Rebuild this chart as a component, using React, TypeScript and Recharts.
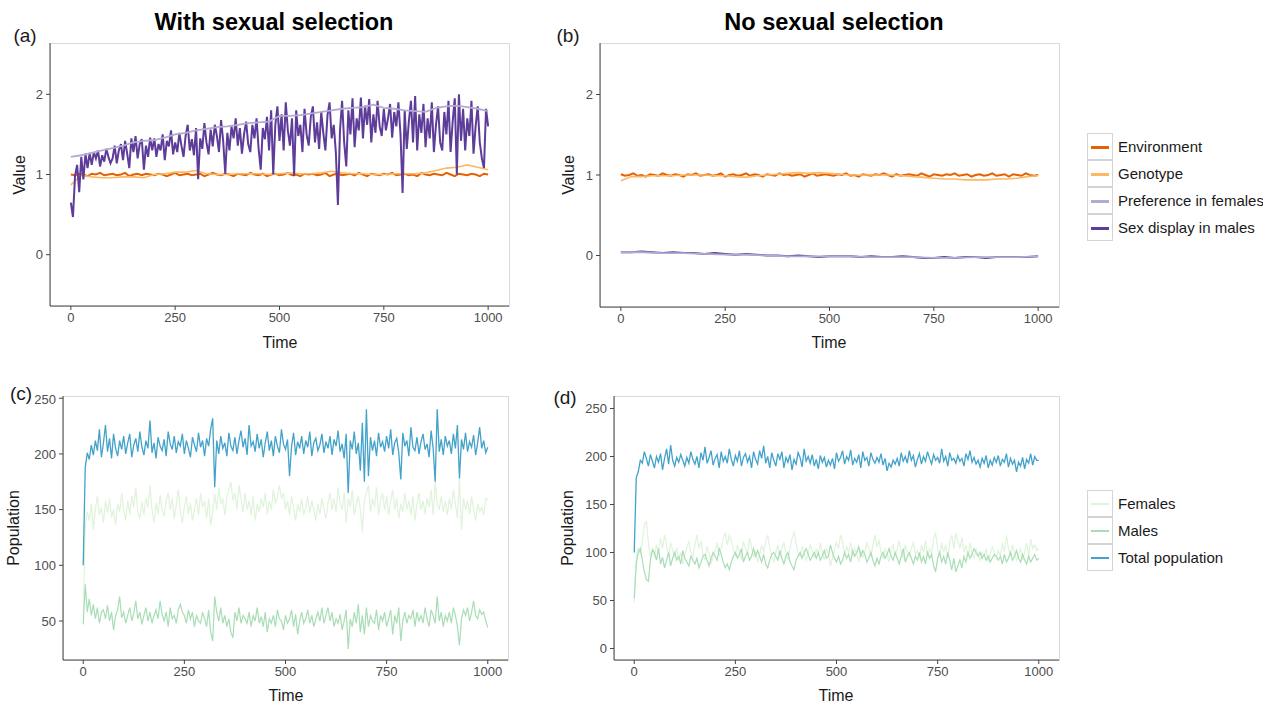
import { LineChart, Line, XAxis, YAxis } from "recharts";

// time steps between stored samples
const FAST = 5;
const MID = 10;
const SLOW = 25;
const SLOWER = 50;

const TIME_TICKS = [0, 250, 500, 750, 1000];
const VALUE_TICKS = [0, 1, 2];
const POP_TICKS_C = [50, 100, 150, 200, 250];
const POP_TICKS_D = [0, 50, 100, 150, 200, 250];

// (a) with sexual selection — every 5 steps
const SEX_DISPLAY_A = [
  0.65, 0.47, 0.98, 1.12, 0.78, 1.22, 0.94, 1.26, 1.08, 1.27,
  1.12, 1.28, 1.20, 1.30, 1.10, 1.24, 1.16, 1.32, 1.22, 1.14,
  1.20, 1.36, 1.14, 1.30, 1.38, 1.18, 1.42, 1.26, 1.08, 1.45,
  1.28, 1.48, 1.20, 1.38, 1.44, 1.06, 1.36, 1.22, 1.46, 1.30,
  1.45, 1.22, 1.38, 1.30, 1.50, 1.18, 1.42, 1.35, 1.55, 1.25,
  1.40, 1.28, 1.52, 1.36, 1.22, 1.48, 1.62, 1.30, 1.44, 1.24,
  1.58, 0.94, 1.45, 1.32, 1.64, 1.40, 1.25, 1.56, 1.35, 1.62,
  1.48, 1.28, 1.68, 1.42, 1.01, 1.52, 1.30, 1.60, 1.45, 1.70,
  1.36, 1.58, 1.26, 1.50, 1.66, 1.38, 1.28, 1.62, 1.45, 1.70,
  1.32, 1.06, 1.58, 1.44, 1.72, 1.30, 1.80, 1.00, 1.62, 1.85,
  1.42, 1.75, 1.30, 1.90, 1.55, 1.36, 1.70, 0.98, 1.80, 1.48,
  1.62, 1.28, 1.82, 1.50, 1.36, 1.72, 1.85, 1.40, 1.65, 1.32,
  1.78, 1.52, 1.30, 1.74, 1.90, 1.45, 1.62, 1.28, 0.62, 1.55,
  1.92, 1.40, 1.10, 1.80, 1.50, 1.95, 1.34, 1.70, 1.55, 1.96,
  1.45, 1.86, 1.62, 1.94, 1.40, 1.75, 1.52, 1.92, 1.60, 1.48,
  1.82, 1.55, 1.70, 1.88, 1.46, 1.78, 1.60, 1.90, 1.50, 0.77,
  1.80, 1.32, 1.66, 1.92, 1.40, 1.98, 1.30, 1.75, 1.52, 1.88,
  1.34, 1.70, 1.45, 1.90, 1.28, 1.62, 1.85, 1.40, 1.30, 1.78,
  1.50, 1.92, 1.28, 1.66, 1.95, 1.00, 2.00, 1.42, 1.82, 1.30,
  1.70, 1.48, 1.92, 1.26, 1.60, 1.85, 1.40, 1.20, 1.08, 1.82,
  1.60,
];
// every 25 steps
const PREFERENCE_A = [
  1.22, 1.24, 1.27, 1.30, 1.33, 1.36, 1.40, 1.42, 1.43, 1.46,
  1.50, 1.52, 1.55, 1.57, 1.59, 1.60, 1.62, 1.64, 1.65, 1.66,
  1.73, 1.73, 1.74, 1.76, 1.78, 1.80, 1.82, 1.83, 1.84, 1.87,
  1.83, 1.82, 1.80, 1.79, 1.78, 1.83, 1.85, 1.86, 1.84, 1.82,
  1.79,
];
const GENOTYPE_A = [
  0.87, 0.99, 0.97, 0.96, 0.96, 0.97, 0.97, 0.96, 1.00, 1.01,
  1.03, 1.03, 1.05, 1.01, 1.00, 1.00, 1.01, 1.01, 1.01, 1.00,
  1.01, 1.02, 1.01, 1.01, 1.02, 1.04, 1.02, 1.01, 1.01, 1.00,
  1.00, 1.01, 1.01, 1.01, 1.02, 1.05, 1.08, 1.09, 1.12, 1.09,
  1.06,
];
// every 10 steps
const ENVIRONMENT_A = [
  1.00, 0.99, 1.01, 1.00, 0.98, 1.01, 1.00, 1.02, 0.99, 1.00,
  1.01, 0.99, 1.00, 1.02, 0.98, 1.00, 1.01, 0.99, 1.01, 1.00,
  0.99, 1.01, 1.00, 0.98, 1.00, 1.02, 0.99, 1.00, 1.01, 0.99,
  1.00, 1.01, 0.98, 1.00, 1.02, 1.00, 0.99, 1.01, 1.00, 0.98,
  1.01, 1.00, 0.99, 1.02, 1.00, 0.99, 1.01, 0.98, 1.00, 1.01,
  0.99, 1.00, 1.02, 0.99, 1.00, 0.98, 1.01, 1.00, 1.01, 0.99,
  1.00, 1.02, 0.98, 1.00, 1.01, 0.99, 1.00, 1.01, 0.99, 1.02,
  1.00, 0.98, 1.01, 1.00, 0.99, 1.01, 1.00, 1.02, 0.99, 1.00,
  1.01, 0.99, 1.00, 0.98, 1.02, 1.00, 0.99, 1.01, 1.00, 0.99,
  1.02, 1.00, 0.98, 1.01, 1.00, 0.99, 1.01, 1.00, 0.98, 1.01,
  1.00,
];

// (b) no sexual selection
const ENVIRONMENT_B = [
  1.01, 0.99, 1.00, 1.02, 0.99, 1.00, 0.98, 1.01, 1.00, 0.99,
  1.02, 1.00, 0.99, 1.01, 1.00, 0.98, 1.01, 1.00, 1.02, 0.99,
  1.00, 1.01, 0.99, 1.00, 1.02, 0.98, 1.00, 1.01, 0.99, 1.00,
  1.02, 0.99, 1.01, 1.00, 0.98, 1.01, 1.00, 0.99, 1.02, 1.00,
  1.01, 0.99, 1.00, 1.01, 0.98, 1.00, 1.02, 0.99, 1.00, 1.01,
  1.00, 0.99, 1.01, 1.00, 1.02, 0.99, 1.00, 0.98, 1.01, 1.00,
  0.99, 1.01, 1.00, 1.02, 1.00, 0.98, 1.01, 0.99, 1.00, 1.01,
  1.00, 0.99, 1.02, 1.00, 0.98, 1.01, 1.00, 0.99, 1.01, 1.00,
  1.02, 0.99, 1.00, 1.01, 0.98, 1.00, 1.01, 0.99, 1.00, 1.02,
  0.99, 1.00, 1.01, 0.98, 1.01, 1.00, 0.99, 1.02, 1.00, 0.99,
  1.00,
];
const GENOTYPE_B = [
  0.93, 0.98, 0.98, 0.99, 0.99, 0.99, 1.00, 1.00, 1.00, 0.99,
  0.99, 0.98, 0.97, 0.99, 1.00, 1.01, 1.02, 1.03, 1.02, 1.03,
  1.02, 1.01, 1.00, 1.00, 1.00, 1.00, 1.00, 0.99, 0.98, 0.97,
  0.96, 0.95, 0.95, 0.94, 0.94, 0.94, 0.95, 0.95, 0.96, 0.98,
  0.99,
];
const SEX_DISPLAY_B = [
  0.04, 0.04, 0.05, 0.04, 0.03, 0.04, 0.03, 0.03, 0.02, 0.03,
  0.02, 0.01, 0.02, 0.01, 0.00, 0.00, -0.01, 0.00, -0.01, -0.02,
  -0.01, -0.01, -0.01, -0.02, -0.01, -0.02, -0.02, -0.01, -0.02, -0.03,
  -0.03, -0.02, -0.03, -0.02, -0.02, -0.03, -0.02, -0.02, -0.02, -0.02,
  -0.01,
];
// every 50 steps
const PREFERENCE_B = [
  0.04, 0.04, 0.03, 0.03, 0.02, 0.01, 0.01, 0.00, -0.01, -0.01,
  -0.01, -0.01, -0.02, -0.02, -0.02, -0.03, -0.03, -0.02, -0.02, -0.02,
  -0.01,
];

// (c) populations with sexual selection — every 5 steps
const TOTAL_C = [
  100, 188, 201, 195, 208, 199, 212, 203, 222, 197,
  210, 226, 202, 214, 196, 218, 205, 198, 212, 204,
  216, 200, 210, 218, 197, 208, 214, 202, 220, 206,
  199, 212, 205, 230, 201, 210, 196, 215, 207, 203,
  213, 198, 220, 209, 204, 216, 201, 211, 207, 218,
  200, 212, 205, 197, 215, 208, 202, 219, 206, 212,
  198, 214, 207, 222, 232, 170, 212, 200, 216, 205,
  210, 198, 219, 207, 203, 215, 200, 212, 221, 206,
  214, 199, 226, 207, 211, 202, 218, 205, 213, 197,
  210, 220, 203, 212, 198, 216, 207, 201, 222, 209,
  204, 213, 180, 207, 219, 199, 211, 205, 216, 200,
  212, 206, 220, 198, 210, 214, 203, 208, 218, 201,
  211, 205, 216, 199, 213, 207, 221, 202, 209, 196,
  218, 165, 212, 204, 220, 200, 210, 185, 228, 175,
  240, 180, 215, 203, 212, 198, 219, 206, 211, 202,
  216, 205, 222, 199, 210, 214, 201, 177, 219, 207,
  212, 198, 224, 206, 203, 215, 200, 211, 218, 204,
  209, 197, 221, 205, 175, 240, 202, 213, 199, 216,
  207, 212, 200, 218, 205, 226, 178, 213, 204, 219,
  202, 211, 206, 217, 199, 210, 224, 205, 212, 201,
  206,
];
const FEMALES_C = [
  53, 135, 148, 140, 155, 132, 150, 162, 145, 152,
  138, 158, 147, 160, 143, 150, 136, 155, 148, 165,
  150, 140, 158, 146, 162, 152, 170, 148, 142, 157,
  145, 160, 152, 172, 150, 138, 156, 146, 163, 150,
  144, 158, 165, 150, 160, 142, 154, 168, 148, 138,
  152, 162, 146, 156, 140, 150, 160, 145, 165, 152,
  158, 142, 160, 136, 148, 164, 150, 170, 155, 160,
  145, 162, 168, 175, 158, 165, 150, 172, 160, 148,
  165, 150, 158, 145, 162, 140, 155, 148, 160, 152,
  165, 146, 158, 150, 168, 155, 162, 172, 160, 165,
  150, 158, 145, 162, 152, 140, 155, 148, 160, 145,
  152, 162, 147, 158, 150, 140, 155, 146, 160, 150,
  142, 156, 165, 150, 160, 148, 170, 155, 150, 165,
  138, 160, 152, 168, 145, 155, 162, 150, 130, 158,
  165, 172, 148, 160, 152, 170, 145, 158, 165, 150,
  162, 145, 158, 168, 150, 160, 142, 155, 148, 165,
  150, 158, 145, 162, 140, 155, 165, 150, 158, 146,
  160, 152, 168, 145, 175, 155, 150, 162, 148, 158,
  145, 160, 150, 168, 155, 142, 178, 132, 160, 150,
  158, 146, 162, 150, 140, 155, 148, 152, 145, 160,
  158,
];
const MALES_C = [
  47, 83, 58, 70, 55, 65, 52, 62, 48, 58,
  60, 52, 64, 50, 58, 42, 55, 60, 72, 53,
  58, 48, 55, 62, 50, 57, 68, 52, 58, 47,
  55, 62, 50, 58, 48, 55, 60, 52, 68, 56,
  50, 58, 45, 62, 52, 55, 48, 60, 65, 58,
  55, 48, 60, 52, 58, 45, 55, 50, 48, 58,
  52, 45, 60, 40, 32, 72, 58, 50, 62, 48,
  55, 45, 52, 40, 35, 58, 50, 62, 48, 55,
  52, 48, 58, 45, 55, 50, 62, 48, 54, 45,
  58, 40, 52, 48, 55, 45, 60, 52, 50, 42,
  55, 48, 52, 60, 45, 56, 38, 50, 58, 48,
  52, 60, 48, 55, 45, 52, 58, 50, 62, 48,
  55, 62, 50, 58, 45, 52, 48, 56, 42, 50,
  60, 25, 52, 45, 58, 48, 65, 40, 55, 38,
  62, 45, 55, 50, 48, 60, 42, 55, 50, 58,
  45, 52, 60, 38, 55, 48, 62, 32, 50, 58,
  48, 55, 52, 60, 45, 58, 50, 55, 48, 62,
  52, 45, 60, 55, 48, 72, 50, 58, 45, 55,
  50, 58, 48, 62, 55, 45, 28, 52, 60, 55,
  62, 50, 58, 68, 55, 52, 60, 56, 58, 50,
  44,
];

// (d) populations without sexual selection — every 5 steps
const TOTAL_D = [
  100, 178, 184, 196, 193, 205, 198, 190, 202, 195,
  188, 200, 194, 203, 186, 198, 208, 192, 212, 196,
  190, 199, 194, 202, 196, 190, 199, 193, 205, 197,
  192, 200, 188, 204, 196, 210, 193, 199, 206, 191,
  198, 202, 188, 205, 195, 200, 193, 208, 197, 190,
  201, 195, 206, 190, 199, 203, 194, 200, 188, 205,
  197, 192, 206, 198, 211, 193, 200, 188, 204, 196,
  190, 203, 197, 205, 188, 199, 194, 202, 186, 197,
  192, 204, 199, 189, 208, 195, 200, 193, 202, 190,
  197, 187, 201, 194, 199, 189, 196, 191, 198, 187,
  204, 195, 199, 206, 192, 200, 196, 207, 191, 198,
  194, 202, 188, 205, 196, 199, 190, 204, 197, 193,
  199, 194, 203, 191, 198, 185, 193, 189, 196, 192,
  198, 190, 204, 195, 200, 193, 206, 196, 201, 189,
  197, 203, 192, 200, 195, 205, 198, 192, 202, 196,
  199, 193, 208, 195, 200, 190, 204, 196, 198, 193,
  201, 195, 198, 190, 203, 197, 206, 194, 199, 192,
  196, 189, 198, 193, 201, 188, 196, 191, 199, 194,
  201, 190, 197, 194, 203, 189, 198, 192, 196, 184,
  194, 190, 199, 187, 197, 193, 203, 191, 200, 196,
  196,
];
const FEMALES_D = [
  48, 95, 105, 98, 112, 128, 133, 110, 95, 102,
  96, 108, 100, 115, 104, 118, 108, 96, 110, 102,
  95, 105, 92, 100, 88, 98, 105, 112, 100, 95,
  108, 118, 104, 112, 98, 92, 106, 100, 88, 96,
  102, 110, 96, 104, 115, 120, 108, 118, 112, 104,
  96, 108, 100, 92, 112, 104, 98, 115, 106, 95,
  102, 90, 98, 108, 100, 112, 118, 105, 96, 90,
  100, 108, 95, 104, 110, 100, 92, 104, 115, 121,
  110, 100, 96, 106, 100, 92, 98, 108, 102, 95,
  104, 96, 110, 100, 92, 104, 98, 86, 94, 102,
  110, 104, 118, 112, 98, 106, 100, 110, 96, 104,
  98, 90, 102, 95, 100, 110, 104, 96, 108, 118,
  106, 112, 100, 94, 104, 98, 90, 102, 108, 96,
  104, 112, 100, 94, 108, 100, 96, 104, 110, 98,
  102, 94, 108, 100, 112, 96, 104, 98, 115, 120,
  104, 96, 110, 100, 108, 94, 112, 118, 104, 120,
  112, 104, 116, 100, 108, 96, 110, 100, 94, 104,
  98, 92, 100, 96, 104, 90, 98, 106, 100, 94,
  102, 96, 110, 100, 118, 104, 96, 108, 100, 92,
  98, 104, 92, 100, 110, 96, 114, 104, 108, 102,
  104,
];
const MALES_D = [
  52, 88, 100, 104, 92, 80, 72, 70, 92, 103,
  100, 92, 104, 88, 95, 84, 92, 100, 86, 94,
  100, 92, 96, 88, 102, 94, 90, 86, 96, 92,
  88, 94, 84, 90, 96, 98, 92, 86, 94, 100,
  96, 92, 104, 98, 90, 84, 88, 82, 90, 96,
  100, 94, 98, 104, 90, 96, 100, 92, 96, 104,
  96, 102, 96, 90, 98, 88, 84, 92, 98, 100,
  96, 92, 102, 94, 88, 96, 100, 90, 86, 82,
  92, 96, 100, 94, 100, 104, 98, 92, 96, 100,
  94, 100, 92, 96, 102, 94, 96, 108, 100, 94,
  90, 96, 88, 92, 100, 94, 98, 90, 102, 96,
  100, 106, 96, 102, 98, 90, 94, 100, 92, 86,
  94, 88, 96, 100, 94, 98, 104, 96, 92, 100,
  94, 88, 96, 104, 90, 96, 100, 94, 88, 96,
  92, 100, 90, 96, 88, 100, 94, 98, 86, 80,
  94, 100, 90, 96, 88, 100, 92, 82, 94, 80,
  86, 92, 84, 96, 90, 100, 94, 98, 104, 100,
  96, 100, 94, 98, 92, 96, 90, 94, 98, 96,
  92, 96, 88, 98, 90, 94, 100, 92, 96, 102,
  94, 90, 98, 92, 88, 96, 90, 94, 98, 92,
  94,
];

const C_ENV = "#e66101";
const C_GEN = "#fdb863";
const C_PREF = "#b2abd2";
const C_SEX = "#5e3c99";
const C_FEM = "#e0f3db";
const C_MAL = "#a8ddb5";
const C_TOT = "#43a2ca";

const FONT = '"Liberation Sans", Arial, Helvetica, sans-serif';

const rows = (vals: number[], step: number) => vals.map((v, i) => ({ t: i * step, v }));

type Series = { name: string; vals: number[]; step: number; color: string; width: number };

function Panel({ x, y, w, h, yDomain, yTicks, series }: {
  x: number; y: number; w: number; h: number;
  yDomain: [number, number]; yTicks: number[]; series: Series[];
}) {
  const yw = 50, mt = 5, mr = 5, xh = 30;
  const tick = { fill: "#4d4d4d", fontSize: 13, fontFamily: FONT };
  return (
    <>
      <div style={{ position: "absolute", left: x, top: y, width: w + 1, height: h + 1, border: "1px solid #dadada", boxSizing: "border-box" }} />
      <div style={{ position: "absolute", left: x - yw, top: y - mt }}>
        <LineChart width={yw + w + mr} height={mt + h + xh} margin={{ top: mt, right: mr, bottom: 0, left: 0 }}>
          <XAxis type="number" dataKey="t" domain={[-50, 1050]} ticks={TIME_TICKS} allowDataOverflow
            height={xh} tick={tick} tickSize={4} tickMargin={3}
            axisLine={{ stroke: "#444" }} tickLine={{ stroke: "#444" }} />
          <YAxis type="number" domain={yDomain} ticks={yTicks} allowDataOverflow
            width={yw} tick={tick} tickSize={4} tickMargin={3}
            axisLine={{ stroke: "#444" }} tickLine={{ stroke: "#444" }} />
          {series.map((s) => (
            <Line key={s.name} name={s.name} data={rows(s.vals, s.step)} dataKey="v" type="linear"
              stroke={s.color} strokeWidth={s.width} dot={false} isAnimationActive={false} />
          ))}
        </LineChart>
      </div>
    </>
  );
}

function Legend({ x, y, items, lw }: { x: number; y: number; items: { name: string; color: string }[]; lw: number }) {
  return (
    <div style={{ position: "absolute", left: x, top: y }}>
      {items.map((it) => (
        <div key={it.name} style={{ display: "flex", alignItems: "center", height: 27 }}>
          <div style={{ width: 26, height: 27, border: "1px solid #d4d4d4", boxSizing: "border-box", position: "relative", background: "#fff" }}>
            <div style={{ position: "absolute", left: 3, right: 3, top: 13 - lw / 2, height: lw, background: it.color }} />
          </div>
          <span style={{ marginLeft: 5, fontSize: 15, fontFamily: FONT, color: "#1a1a1a", whiteSpace: "nowrap" }}>{it.name}</span>
        </div>
      ))}
    </div>
  );
}

const txt = (s: string, cx: number, cy: number, size: number, extra: React.CSSProperties = {}) => (
  <div style={{ position: "absolute", left: cx, top: cy, transform: "translate(-50%, -50%)", fontSize: size, fontFamily: FONT, color: "#1a1a1a", whiteSpace: "nowrap", ...extra }}>{s}</div>
);
const vtxt = (s: string, cx: number, cy: number, size: number) => (
  <div style={{ position: "absolute", left: cx, top: cy, transform: "translate(-50%, -50%) rotate(-90deg)", fontSize: size, fontFamily: FONT, color: "#1a1a1a", whiteSpace: "nowrap" }}>{s}</div>
);

export default function App() {
  const topSeries = (env: number[], gen: number[], sex: number[], sexStep: number, pref: number[], prefStep: number): Series[] => [
    { name: "Environment", vals: env, step: MID, color: C_ENV, width: 2 },
    { name: "Genotype", vals: gen, step: SLOW, color: C_GEN, width: 1.6 },
    { name: "Sex display in males", vals: sex, step: sexStep, color: C_SEX, width: 2 },
    { name: "Preference in females", vals: pref, step: prefStep, color: C_PREF, width: 1.8 },
  ];
  const popSeries = (fem: number[], mal: number[], tot: number[]): Series[] => [
    { name: "Females", vals: fem, step: FAST, color: C_FEM, width: 1.2 },
    { name: "Males", vals: mal, step: FAST, color: C_MAL, width: 1.2 },
    { name: "Total population", vals: tot, step: FAST, color: C_TOT, width: 1.3 },
  ];
  return (
    <div style={{ position: "absolute", left: 0, top: 0, width: 1263, height: 705, background: "#fff", overflow: "hidden" }}>
      {txt("With sexual selection", 274, 22, 23.5, { fontWeight: "bold", color: "#000" })}
      {txt("No sexual selection", 834, 22, 23.5, { fontWeight: "bold", color: "#000" })}
      {txt("(a)", 25, 36, 19)}
      {txt("(b)", 568, 36, 19)}
      {txt("(c)", 21, 394, 19)}
      {txt("(d)", 565, 398, 19)}
      {vtxt("Value", 20, 175, 16)}
      {vtxt("Value", 569, 175, 16)}
      {txt("Time", 280, 343, 16)}
      {txt("Time", 829, 343, 16)}
      {vtxt("Population", 14, 528, 16)}
      {vtxt("Population", 568, 528, 16)}
      {txt("Time", 286, 696, 16)}
      {txt("Time", 836, 696, 16)}

      <Panel x={50} y={43} w={459} h={263} yDomain={[-0.64, 2.64]} yTicks={VALUE_TICKS}
        series={topSeries(ENVIRONMENT_A, GENOTYPE_A, SEX_DISPLAY_A, FAST, PREFERENCE_A, SLOW)} />
      <Panel x={600} y={43} w={459} h={264} yDomain={[-0.64, 2.64]} yTicks={VALUE_TICKS}
        series={topSeries(ENVIRONMENT_B, GENOTYPE_B, SEX_DISPLAY_B, SLOW, PREFERENCE_B, SLOWER)} />
      <Panel x={63} y={396} w={445} h={264} yDomain={[15, 252]} yTicks={POP_TICKS_C}
        series={popSeries(FEMALES_C, MALES_C, TOTAL_C)} />
      <Panel x={614} y={396} w={445} h={264} yDomain={[-12, 263]} yTicks={POP_TICKS_D}
        series={popSeries(FEMALES_D, MALES_D, TOTAL_D)} />

      <Legend x={1087} y={133} lw={3} items={[
        { name: "Environment", color: C_ENV },
        { name: "Genotype", color: C_GEN },
        { name: "Preference in females", color: C_PREF },
        { name: "Sex display in males", color: C_SEX },
      ]} />
      <Legend x={1087} y={490} lw={2} items={[
        { name: "Females", color: C_FEM },
        { name: "Males", color: C_MAL },
        { name: "Total population", color: C_TOT },
      ]} />
    </div>
  );
}
